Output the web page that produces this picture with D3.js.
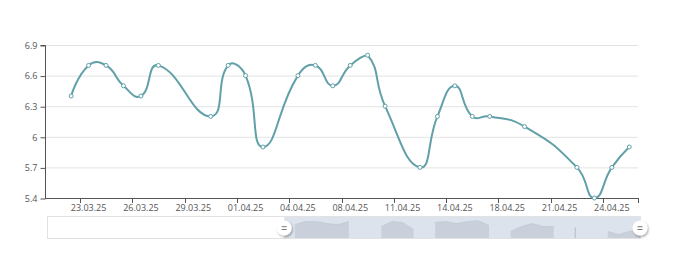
<!DOCTYPE html>
<html>
<head>
<meta charset="utf-8">
<script src="https://cdn.jsdelivr.net/npm/d3@7"></script>
<style>
  html, body { margin: 0; padding: 0; background: #fff; }
  svg { display: block; }
</style>
</head>
<body>
<svg id="chart" width="680" height="254"></svg>
<script>
const categories = [
  '21.03.25', '22.03.25', '23.03.25', '24.03.25', '25.03.25', '26.03.25', '27.03.25',
  '28.03.25', '29.03.25', '30.03.25', '31.03.25', '01.04.25', '02.04.25', '03.04.25',
  '04.04.25', '05.04.25', '07.04.25', '08.04.25', '09.04.25', '10.04.25', '11.04.25',
  '12.04.25', '13.04.25', '14.04.25', '15.04.25', '16.04.25', '18.04.25', '19.04.25',
  '20.04.25', '21.04.25', '22.04.25', '23.04.25', '24.04.25', '25.04.25'
];
const values = [
  null, 6.4, 6.7, 6.7, 6.5, 6.4, 6.7, null, null, 6.2, 6.7, 6.6, 5.9, null,
  6.6, 6.7, 6.5, 6.7, 6.8, 6.3, null, 5.7, 6.2, 6.5, 6.2, 6.2, null, 6.1,
  null, null, 5.7, 5.4, 5.7, 5.9
];
const xTickLabels = ['23.03.25', '26.03.25', '29.03.25', '01.04.25', '04.04.25', '08.04.25',
  '11.04.25', '14.04.25', '18.04.25', '21.04.25', '24.04.25'];
const yTicks = [5.4, 5.7, 6, 6.3, 6.6, 6.9];
// slider window, percent of the full range
const zoomStart = 40;
const zoomEnd = 100;

const FONT = '"Open Sans", sans-serif';
const LINE = '#61a0a8';
const grid = { left: 45, right: 638, top: 45, bottom: 198 };
const slider = { left: 47, right: 640, top: 216.5, bottom: 238.5 };

const svg = d3.select('#chart');

const x = d3.scaleBand()
  .domain(categories)
  .range([grid.left, grid.right])
  .padding(0);
const y = d3.scaleLinear()
  .domain([d3.min(yTicks), d3.max(yTicks)])
  .range([grid.bottom, grid.top]);

// split lines
svg.append('g')
  .selectAll('line')
  .data(yTicks.slice(1))
  .enter()
  .append('line')
  .attr('x1', grid.left)
  .attr('x2', grid.right)
  .attr('y1', d => y(d) + 0.5)
  .attr('y2', d => y(d) + 0.5)
  .attr('stroke', '#e3e3e3');

// y axis
const yAxis = d3.axisLeft(y)
  .tickValues(yTicks)
  .tickSize(5)
  .tickPadding(3)
  .tickFormat(d => String(d));
const gy = svg.append('g')
  .attr('transform', `translate(${grid.left + 0.5}, 0.5)`)
  .call(yAxis);
gy.select('.domain').attr('stroke', '#555').attr('d', `M-5,${grid.top}H0V${grid.bottom}`);
gy.selectAll('.tick line').attr('stroke', '#555');
gy.selectAll('.tick text')
  .attr('fill', '#555')
  .attr('font-family', FONT)
  .attr('font-size', 9);

// x axis: labels at band centres, ticks at band starts
const xAxis = d3.axisBottom(x)
  .tickValues(xTickLabels)
  .tickSize(0)
  .tickPadding(7);
const gx = svg.append('g')
  .attr('transform', `translate(0, ${grid.bottom})`)
  .call(xAxis);
gx.select('.domain').remove();
gx.selectAll('.tick text')
  .attr('fill', '#555')
  .attr('font-family', FONT)
  .attr('font-size', 9);

svg.append('line')
  .attr('x1', grid.left)
  .attr('x2', grid.right + 0.5)
  .attr('y1', grid.bottom + 0.5)
  .attr('y2', grid.bottom + 0.5)
  .attr('stroke', '#555');

svg.append('g')
  .selectAll('line')
  .data(xTickLabels.map(d => x(d)).concat([grid.right]))
  .enter()
  .append('line')
  .attr('x1', d => Math.round(d) + 0.5)
  .attr('x2', d => Math.round(d) + 0.5)
  .attr('y1', grid.bottom)
  .attr('y2', grid.bottom + 5)
  .attr('stroke', '#555');

// points, nulls skipped (connect nulls)
const pts = categories
  .map((c, i) => ({ c, v: values[i] }))
  .filter(d => d.v != null)
  .map(d => [x(d.c) + x.bandwidth() / 2, y(d.v)]);

// echarts-like smoothing, control points clamped to the points' bbox
const smoothPath = (points, smooth) => {
  const minP = [d3.min(points, p => p[0]), d3.min(points, p => p[1])];
  const maxP = [d3.max(points, p => p[0]), d3.max(points, p => p[1])];
  const clamp = p => [
    Math.max(minP[0], Math.min(maxP[0], p[0])),
    Math.max(minP[1], Math.min(maxP[1], p[1]))
  ];
  const path = d3.path();
  path.moveTo(points[0][0], points[0][1]);
  let cp0 = points[0].slice();
  for (let i = 1; i < points.length; i++) {
    const p = points[i];
    const prev = points[i - 1];
    const next = points[i + 1];
    let cp1 = p.slice();
    let ratio = 0.5;
    let v = [0, 0];
    if (next) {
      v = [next[0] - prev[0], next[1] - prev[1]];
      const d0 = Math.hypot(p[0] - prev[0], p[1] - prev[1]);
      const d1 = Math.hypot(next[0] - p[0], next[1] - p[1]);
      ratio = d1 / (d0 + d1);
      cp1 = [p[0] - v[0] * smooth * (1 - ratio), p[1] - v[1] * smooth * (1 - ratio)];
    }
    const a = clamp(cp0);
    const b = clamp(cp1);
    path.bezierCurveTo(a[0], a[1], b[0], b[1], p[0], p[1]);
    cp0 = [p[0] + v[0] * smooth * ratio, p[1] + v[1] * smooth * ratio];
  }
  return path.toString();
};

svg.append('path')
  .attr('d', smoothPath(pts, 0.5))
  .attr('fill', 'none')
  .attr('stroke', LINE)
  .attr('stroke-width', 2);

svg.append('g')
  .selectAll('circle')
  .data(pts)
  .enter()
  .append('circle')
  .attr('cx', d => d[0])
  .attr('cy', d => d[1])
  .attr('r', 2)
  .attr('fill', '#fff')
  .attr('stroke', LINE)
  .attr('stroke-width', 1);

// data zoom slider
const sx = d3.scaleLinear().domain([0, 100]).range([slider.left, slider.right]);
const sh = slider.bottom - slider.top;

svg.append('rect')
  .attr('x', slider.left + 0.5)
  .attr('y', slider.top)
  .attr('width', slider.right - slider.left)
  .attr('height', sh)
  .attr('fill', '#fff')
  .attr('stroke', '#e2e2e2');

svg.append('rect')
  .attr('x', sx(zoomStart))
  .attr('y', slider.top + 0.5)
  .attr('width', sx(zoomEnd) - sx(zoomStart))
  .attr('height', sh - 1)
  .attr('fill', '#dde3ec');

// data shadow in the window
const ext = d3.extent(values.filter(v => v != null));
const pad = (ext[1] - ext[0]) * 0.3;
const shY = d3.scaleLinear().domain([ext[0] - pad, ext[1] + pad]).range([slider.bottom, slider.top]);
const shX = d3.scaleLinear().domain([0, categories.length - 1]).range([sx(zoomStart), sx(zoomEnd)]);

const runs = [];
let run = null;
values.forEach((v, i) => {
  if (v == null) { run = null; return; }
  if (!run) { run = []; runs.push(run); }
  run.push([i, v]);
});

const shArea = d3.area()
  .x(d => shX(d[0]))
  .y0(slider.bottom - 0.5)
  .y1(d => shY(d[1]));
const shLine = d3.line()
  .x(d => shX(d[0]))
  .y(d => shY(d[1]));

svg.append('g')
  .selectAll('path')
  .data(runs)
  .enter()
  .append('path')
  .attr('d', shArea)
  .attr('fill', '#c9d0db')
  .attr('stroke', d => d.length === 1 ? '#bcc4cf' : 'none')
  .attr('stroke-width', 1);

svg.append('g')
  .selectAll('path')
  .data(runs.filter(r => r.length > 1))
  .enter()
  .append('path')
  .attr('d', shLine)
  .attr('fill', 'none')
  .attr('stroke', '#bcc4cf')
  .attr('stroke-width', 0.6);

// handles
const defs = svg.append('defs');
defs.append('filter')
  .attr('id', 'hs')
  .attr('x', '-50%').attr('y', '-50%')
  .attr('width', '200%').attr('height', '200%')
  .append('feDropShadow')
  .attr('dx', 1).attr('dy', 1.5)
  .attr('stdDeviation', 1.3)
  .attr('flood-color', '#000')
  .attr('flood-opacity', 0.35);

const handles = svg.append('g')
  .selectAll('g')
  .data([zoomStart, zoomEnd])
  .enter()
  .append('g')
  .attr('transform', d => `translate(${sx(d)}, ${(slider.top + slider.bottom) / 2 + 0.5})`);
handles.append('circle')
  .attr('r', 7.5)
  .attr('fill', '#fff')
  .attr('filter', 'url(#hs)');
handles.append('path')
  .attr('d', 'M-2.5,-1.3H2.5M-2.5,1.5H2.5')
  .attr('stroke', '#777')
  .attr('stroke-width', 1);
</script>
</body>
</html>
